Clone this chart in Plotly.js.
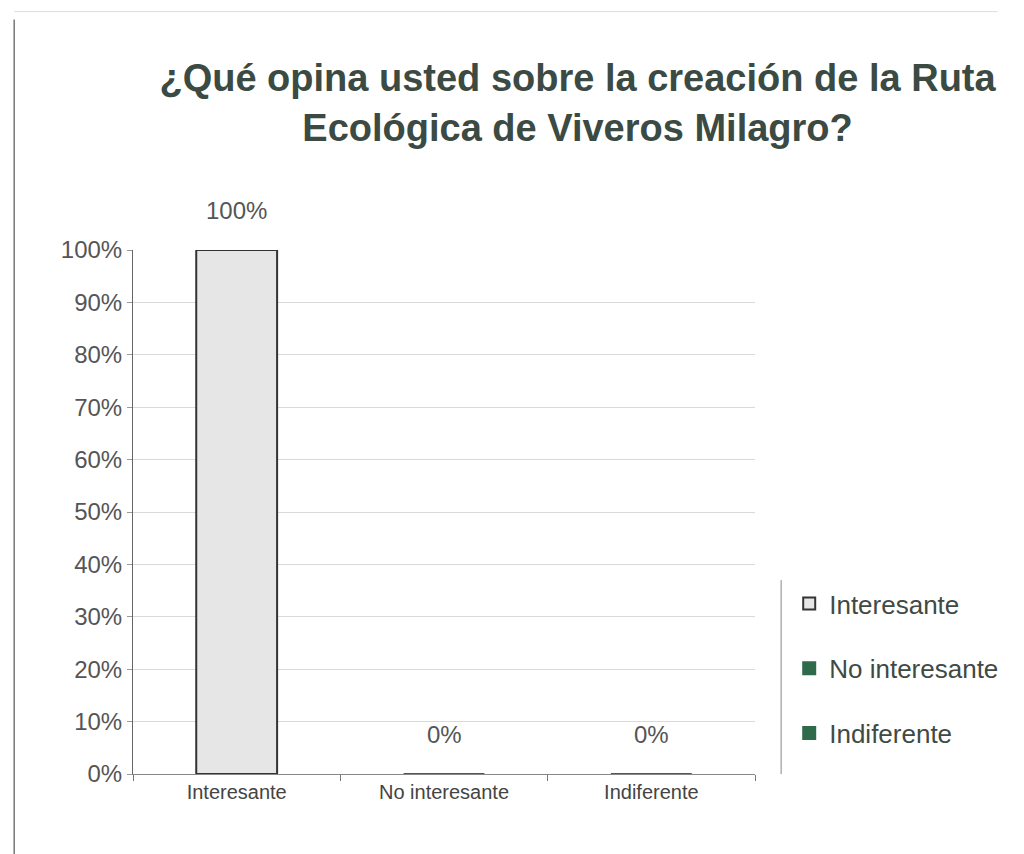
<!DOCTYPE html>
<html>
<head>
<meta charset="utf-8">
<script src="https://cdn.plot.ly/plotly-3.0.1.min.js"></script>
<style>html,body{margin:0;padding:0;background:#fff;}#chart{width:1024px;height:854px;}</style>
</head>
<body>
<div id="chart"></div>
<script>
const categories = ["Interesante", "No interesante", "Indiferente"];
const values = [1.00, 0.00, 0.00];
const valueLabels = ["100%", "0%", "0%"];
const barColors = ["#e6e6e6", "#2f6b4a", "#2f6b4a"];
const barLines = ["#333333", "#2f6b4a", "#2f6b4a"];

const FONT = '"Liberation Sans Narrow", "Arial Narrow", "Liberation Sans", Arial, sans-serif';

const traces = categories.map((c, i) => ({
  type: 'bar',
  name: c,
  x: [c],
  y: [values[i]],
  legendgroup: 'g' + i,
  width: 0.39,
  marker: {color: barColors[i], line: {color: barLines[i], width: 2}},
  hoverinfo: 'none'
}));

const annotations = categories.map((c, i) => ({
  x: c, y: values[i], xref: 'x', yref: 'y',
  text: valueLabels[i], showarrow: false, yshift: 40,
  font: {family: FONT, size: 24, color: '#555'}
}));

const layout = {
  width: 1024, height: 854,
  paper_bgcolor: '#fff', plot_bgcolor: '#fff',
  margin: {l: 133, r: 269, t: 250, b: 80},
  barmode: 'overlay',
  showlegend: true,
  title: {
    text: '¿Qué opina usted sobre la creación de la Ruta<br>Ecológica de Viveros Milagro?',
    font: {family: FONT, size: 38, color: '#3b4a42', weight: 'bold'},
    x: 0.564, xanchor: 'center', y: 0.893, yanchor: 'top'
  },
  xaxis: {
    type: 'category',
    showgrid: false,
    showline: true, linecolor: '#888', linewidth: 1,
    ticks: 'outside', tickson: 'boundaries', ticklen: 6, tickcolor: '#777',
    tickfont: {family: FONT, size: 20, color: '#444'},
    fixedrange: true
  },
  yaxis: {
    range: [0, 1],
    dtick: 0.1, tickformat: '.0%',
    showgrid: true, gridcolor: '#d9d9d9', gridwidth: 1,
    showline: true, linecolor: '#666', linewidth: 1,
    ticks: 'outside', ticklen: 5, tickcolor: '#999',
    tickfont: {family: FONT, size: 24, color: '#555'},
    zeroline: false,
    fixedrange: true
  },
  legend: {
    x: 1.055, xanchor: 'left', y: 0.37, yanchor: 'top',
    font: {family: FONT, size: 26, color: '#3f4a44'},
    tracegroupgap: 28,
    bgcolor: 'rgba(0,0,0,0)'
  },
  annotations: annotations,
  shapes: [
    {type: 'line', xref: 'paper', yref: 'paper', x0: -0.191, x1: -0.191, y0: 1.44, y1: -0.16, line: {color: '#777', width: 1.5}},
    {type: 'line', xref: 'paper', yref: 'paper', x0: -0.191, x1: 1.39, y0: 1.455, y1: 1.455, line: {color: '#ddd', width: 1}},
    {type: 'line', xref: 'paper', yref: 'paper', x0: 1.042, x1: 1.042, y0: 0.37, y1: 0.0, line: {color: '#888', width: 1}}
  ]
};

Plotly.newPlot('chart', traces, layout, {displayModeBar: false, staticPlot: true});
</script>
</body>
</html>
